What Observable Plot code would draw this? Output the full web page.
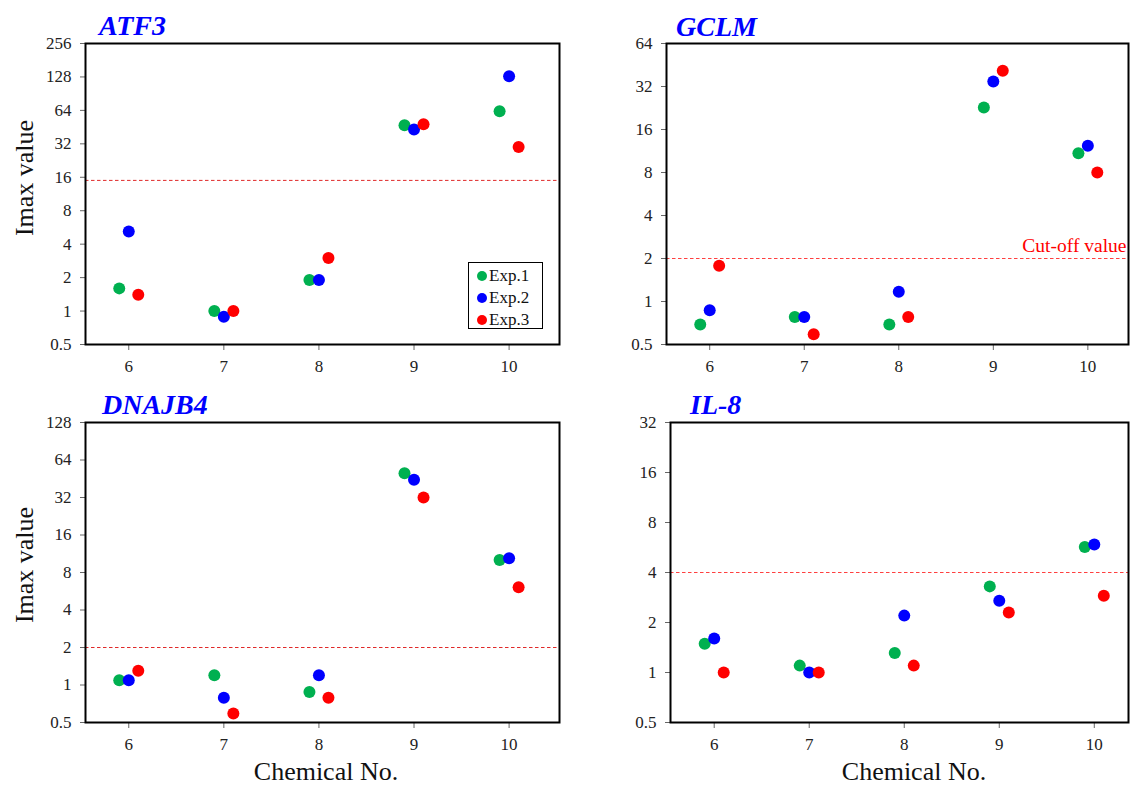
<!DOCTYPE html>
<html>
<head>
<meta charset="utf-8">
<script src="https://cdn.jsdelivr.net/npm/d3@7"></script>
<script src="https://cdn.jsdelivr.net/npm/@observablehq/plot@0.6"></script>
<style>
  html, body { margin: 0; padding: 0; background: #fff; }
  #root { position: relative; width: 1130px; height: 789px; overflow: hidden; background: #fff;
          font-family: "Liberation Serif", "Times New Roman", serif; }
  .panel { position: absolute; }
  .panel svg text { font-family: "Liberation Serif", "Times New Roman", serif; }
  .title { position: absolute; color: #0000ff; font-weight: bold; font-style: italic; font-size: 28px;
           line-height: 1; white-space: nowrap; }
  .ylab { position: absolute; font-size: 26px; color: #111; white-space: nowrap; transform: translate(-50%, -50%) rotate(-90deg); }
  .xlab { position: absolute; font-size: 26px; color: #111; white-space: nowrap; transform: translateX(-50%); line-height: 1; }
  .legend { position: absolute; border: 1.5px solid #000; background: #fff; box-sizing: border-box; padding: 2px 6px 0 8px; }
  .legend .row { display: flex; align-items: center; height: 22px; font-size: 17px; color: #111; }
  .legend .sw { width: 10px; height: 10px; border-radius: 50%; margin-right: 2px; }
</style>
</head>
<body>
<div id="root"></div>
<script>
// ---- data ----
const chemicals = [6, 7, 8, 9, 10];
const experiments = ["Exp.1", "Exp.2", "Exp.3"];
const expColors = ["#00b050", "#0000ff", "#ff0000"];
const expOffsets = [-0.1, 0, 0.1];

const atf3Exp1 = [1.6, 1.0, 1.9, 47, 63];
const atf3Exp2 = [5.2, 0.89, 1.9, 43, 130];
const atf3Exp3 = [1.4, 1.0, 3.0, 48, 30];

const gclmExp1 = [0.69, 0.78, 0.69, 22.8, 10.9];
const gclmExp2 = [0.87, 0.78, 1.17, 34.7, 12.3];
const gclmExp3 = [1.78, 0.59, 0.78, 41.3, 8.0];

const dnajb4Exp1 = [1.09, 1.2, 0.88, 50, 10.1];
const dnajb4Exp2 = [1.09, 0.79, 1.2, 44.5, 10.4];
const dnajb4Exp3 = [1.3, 0.59, 0.79, 32, 6.1];

const il8Exp1 = [1.49, 1.1, 1.31, 3.3, 5.7];
const il8Exp2 = [1.6, 1.0, 2.2, 2.7, 5.9];
const il8Exp3 = [1.0, 1.0, 1.1, 2.3, 2.9];

const atf3Ticks = [0.5, 1, 2, 4, 8, 16, 32, 64, 128, 256];
const gclmTicks = [0.5, 1, 2, 4, 8, 16, 32, 64];
const dnajb4Ticks = [0.5, 1, 2, 4, 8, 16, 32, 64, 128];
const il8Ticks = [0.5, 1, 2, 4, 8, 16, 32];

const cutoffs = { ATF3: 15, GCLM: 2, DNAJB4: 2, "IL-8": 4 };
const cutoffLabel = "Cut-off value";
const yLabel = "Imax value";
const xLabel = "Chemical No.";

const serif = '"Liberation Serif", "Times New Roman", serif';

// ---- helpers ----
function rows(series) {
  const out = [];
  series.forEach((vals, e) => {
    vals.forEach((v, i) => out.push({ chem: chemicals[i], x: chemicals[i] + expOffsets[e], value: v, exp: experiments[e] }));
  });
  return out;
}

const root = document.getElementById("root");

function panel(cfg) {
  const data = rows(cfg.series);
  const marks = [
    Plot.ruleY([cfg.cut], { stroke: cfg.cutColor, strokeWidth: 1, strokeDasharray: "3.5,2.5" }),
    Plot.dot(data, { x: "x", y: "value", fill: "exp", r: 6 }),
    Plot.axisY(cfg.ticks, { tickSize: 5, tickPadding: 9, tickFormat: d => String(d), label: null, stroke: "#666", fill: "#222", fontFamily: serif, fontSize: 17 }),
    Plot.axisX(chemicals, { tickSize: 6, tickPadding: 9, tickFormat: d => String(d), label: null, stroke: "#666", fill: "#222", fontFamily: serif, fontSize: 17 }),
    Plot.frame({ stroke: "#000", strokeWidth: 2 })
  ];
  if (cfg.showCutLabel) {
    marks.push(Plot.text([cfg.cut], { y: d => d, text: () => cutoffLabel, frameAnchor: "right", textAnchor: "end",
      dx: -2, dy: -13, fill: "#ff0000", fontSize: 19.5, fontFamily: serif }));
  }
  const svg = Plot.plot({
    width: cfg.width, height: cfg.height,
    marginLeft: cfg.ml, marginRight: cfg.mr, marginTop: cfg.mt, marginBottom: cfg.mb,
    style: { fontFamily: serif, fontSize: "17px", background: "transparent", overflow: "visible" },
    x: { domain: cfg.xDomain, axis: null },
    y: { type: "log", base: 2, domain: [0.5, cfg.ticks[cfg.ticks.length - 1]], axis: null },
    color: { domain: experiments, range: expColors },
    marks
  });
  const holder = document.createElement("div");
  holder.className = "panel";
  holder.style.left = cfg.left + "px";
  holder.style.top = cfg.top + "px";
  holder.appendChild(svg);
  root.appendChild(holder);

  const t = document.createElement("div");
  t.className = "title";
  t.textContent = cfg.title;
  t.style.left = cfg.titleX + "px";
  t.style.top = cfg.titleY + "px";
  root.appendChild(t);
}

panel({ title: "ATF3", series: [atf3Exp1, atf3Exp2, atf3Exp3], ticks: atf3Ticks, cut: cutoffs.ATF3, cutColor: "#e02a2a",
  left: 0, top: 0, width: 565, height: 390, ml: 85, mr: 6, mt: 43, mb: 46, xDomain: [5.545, 10.53], titleX: 99, titleY: 12 });
panel({ title: "GCLM", series: [gclmExp1, gclmExp2, gclmExp3], ticks: gclmTicks, cut: cutoffs.GCLM, cutColor: "#ff4040", showCutLabel: true,
  left: 565, top: 0, width: 565, height: 390, ml: 101, mr: 2, mt: 43, mb: 46, xDomain: [5.543, 10.43], titleX: 676, titleY: 13 });
panel({ title: "DNAJB4", series: [dnajb4Exp1, dnajb4Exp2, dnajb4Exp3], ticks: dnajb4Ticks, cut: cutoffs.DNAJB4, cutColor: "#e02a2a",
  left: 0, top: 390, width: 565, height: 399, ml: 85, mr: 6, mt: 32, mb: 67, xDomain: [5.545, 10.53], titleX: 102, titleY: 391 });
panel({ title: "IL-8", series: [il8Exp1, il8Exp2, il8Exp3], ticks: il8Ticks, cut: cutoffs["IL-8"], cutColor: "#ff4040",
  left: 565, top: 390, width: 565, height: 399, ml: 105, mr: 2, mt: 32, mb: 67, xDomain: [5.54, 10.36], titleX: 690, titleY: 391 });

// axis labels
[[25, 178], [25, 565]].forEach(([x, y]) => {
  const d = document.createElement("div");
  d.className = "ylab"; d.textContent = yLabel;
  d.style.left = x + "px"; d.style.top = y + "px";
  root.appendChild(d);
});
[[326, 759], [914, 759]].forEach(([x, y]) => {
  const d = document.createElement("div");
  d.className = "xlab"; d.textContent = xLabel;
  d.style.left = x + "px"; d.style.top = y + "px";
  root.appendChild(d);
});

// legend (ATF3 panel)
const lg = document.createElement("div");
lg.className = "legend";
lg.style.left = "468px"; lg.style.top = "262px"; lg.style.width = "75px"; lg.style.height = "67px";
experiments.forEach((e, i) => {
  const r = document.createElement("div");
  r.className = "row";
  const sw = document.createElement("span");
  sw.className = "sw"; sw.style.background = expColors[i];
  const tx = document.createElement("span");
  tx.textContent = e;
  r.appendChild(sw); r.appendChild(tx);
  lg.appendChild(r);
});
root.appendChild(lg);
</script>
</body>
</html>
